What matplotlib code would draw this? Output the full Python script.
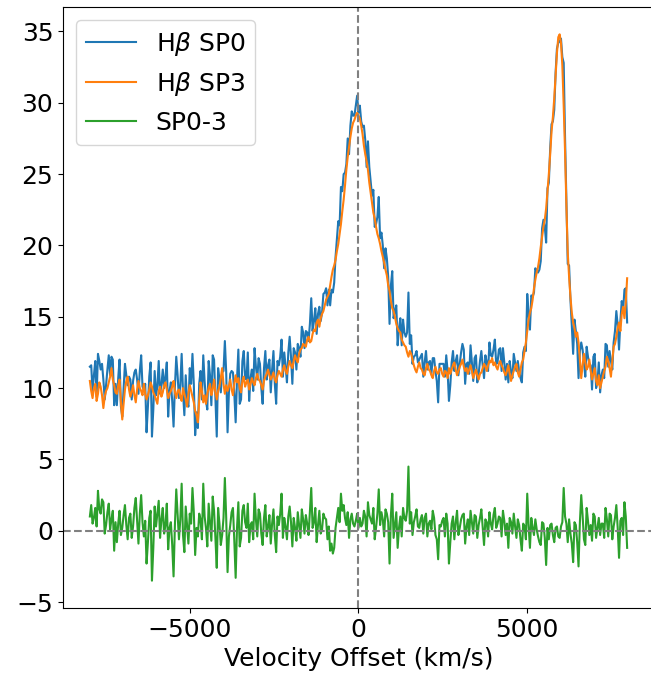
import numpy as np
import matplotlib.pyplot as plt

# velocity grid (km/s), 40 km/s steps
velocity = np.arange(-7960, 7961, 40)

# H-beta SP3 (orange), 20 values per 800 km/s
hb_sp3 = [
    10.5, 9.8, 9.3, 10.0, 10.3, 9.1, 9.6, 10.4, 10.1, 9.5, 8.6, 9.4, 9.8, 10.0, 10.4, 10.8, 11.4, 10.6, 10.2, 9.7,
    9.6, 10.2, 10.6, 9.0, 7.8, 8.9, 9.9, 10.5, 10.8, 9.9, 9.4, 9.7, 10.2, 9.5, 9.0, 9.9, 10.5, 10.0, 9.8, 9.5,
    10.3, 9.6, 9.2, 9.5, 9.9, 10.4, 10.1, 9.7, 9.5, 9.2, 8.9, 9.8, 10.1, 9.4, 9.7, 10.2, 10.4, 9.9, 9.3, 9.6,
    9.8, 10.1, 10.5, 9.7, 9.3, 9.8, 9.9, 9.4, 9.1, 10.0, 9.6, 9.2, 8.7, 9.6, 10.2, 9.8, 9.4, 9.0, 8.4, 8.1,
    7.6, 9.1, 10.4, 9.8, 9.0, 9.5, 8.9, 9.6, 10.0, 10.3, 9.5, 9.9, 10.6, 9.7, 9.2, 9.8, 10.1, 10.7, 11.4, 10.3,
    9.6, 10.2, 9.8, 10.1, 10.6, 9.9, 9.5, 10.3, 10.9, 10.4, 10.7, 10.0, 9.7, 10.5, 10.8, 10.1, 10.4, 10.6, 9.9, 10.3,
    10.7, 10.4, 10.2, 10.7, 11.0, 10.6, 10.5, 10.2, 9.9, 10.5, 10.8, 11.0, 11.3, 10.9, 10.6, 10.8, 11.1, 10.6, 10.4, 10.9,
    11.2, 11.0, 10.8, 11.3, 11.6, 11.2, 11.0, 11.5, 11.9, 11.6, 11.4, 11.9, 12.3, 12.0, 11.8, 12.4, 12.7, 12.8, 13.1, 13.0,
    12.9, 13.4, 13.6, 13.2, 13.3, 13.8, 14.1, 14.0, 14.6, 14.8, 14.3, 14.9, 15.2, 15.4, 15.8, 16.2, 16.4, 16.6, 17.2, 17.8,
    18.3, 18.6, 19.0, 19.6, 20.1, 20.8, 21.5, 22.4, 23.2, 24.2, 25.3, 26.2, 26.9, 27.6, 28.2, 28.6, 28.8, 29.1, 29.3, 29.1,
    28.9, 28.4, 27.8, 27.0, 26.4, 25.9, 25.3, 24.4, 23.7, 23.0, 22.3, 21.9, 21.3, 20.8, 20.5, 20.1, 19.6, 19.2, 18.8, 18.3,
    17.9, 17.2, 16.8, 16.1, 15.6, 15.4, 15.0, 14.5, 14.2, 14.0, 13.9, 13.4, 13.2, 13.0, 12.9, 12.5, 12.2, 12.6, 12.4, 12.0,
    11.6, 11.3, 11.1, 11.5, 11.8, 11.4, 11.3, 11.0, 10.9, 11.4, 11.7, 11.3, 11.2, 10.9, 10.7, 11.2, 11.5, 11.1, 11.0, 11.3,
    11.4, 11.0, 10.8, 11.2, 11.1, 10.7, 11.4, 11.0, 11.3, 11.6, 11.8, 11.3, 10.9, 11.2, 11.5, 11.7, 12.0, 11.5, 11.2, 11.4,
    11.0, 11.3, 11.6, 11.2, 10.7, 11.0, 11.3, 10.9, 10.6, 11.0, 11.1, 11.4, 11.7, 11.5, 11.2, 11.6, 11.9, 11.8, 12.1, 11.6,
    11.8, 11.5, 11.3, 11.7, 11.9, 11.6, 11.4, 11.1, 10.9, 11.2, 11.6, 11.0, 10.5, 10.9, 11.2, 11.5, 11.7, 11.1, 10.8, 11.3,
    11.8, 12.0, 12.6, 13.2, 14.0, 14.8, 15.3, 15.6, 16.2, 17.0, 17.6, 18.1, 18.5, 19.1, 19.9, 20.6, 21.3, 21.8, 22.6, 23.8,
    25.0, 26.4, 28.0, 29.0, 30.3, 31.9, 33.5, 34.6, 34.8, 34.2, 32.6, 29.8, 26.6, 22.8, 19.5, 17.8, 16.4, 15.3, 14.6, 14.2,
    13.6, 13.9, 13.2, 12.0, 10.7, 11.6, 12.4, 11.8, 11.3, 11.5, 12.0, 11.2, 10.6, 11.0, 11.4, 10.5, 10.2, 10.9, 10.0, 10.4,
    10.8, 11.2, 11.5, 12.2, 11.9, 11.4, 10.8, 11.9, 12.9, 13.1, 13.6, 14.2, 14.6, 14.0, 15.2, 15.7, 14.9, 16.0, 17.7,
]

# H-beta SP0 (blue)
hb_sp0 = [
    11.5, 11.6, 9.8, 10.9, 11.9, 9.4, 12.4, 11.9, 11.3, 11.7, 10.6, 9.2, 10.2, 11.3, 12.3, 10.9, 12.2, 12.0, 8.8, 10.3,
    8.8, 10.7, 12.0, 8.7, 8.0, 10.0, 11.7, 10.9, 10.2, 10.8, 10.6, 9.2, 10.5, 11.1, 11.3, 10.6, 9.6, 11.2, 12.3, 10.1,
    9.9, 10.3, 6.9, 8.7, 10.8, 11.8, 6.6, 8.5, 11.2, 9.5, 10.1, 11.9, 9.6, 10.2, 11.3, 10.0, 10.8, 11.8, 8.0, 9.8,
    10.4, 9.1, 7.3, 10.1, 12.2, 10.9, 9.3, 10.2, 12.4, 9.7, 8.1, 10.9, 9.1, 8.7, 11.4, 10.3, 12.4, 10.3, 6.7, 8.3,
    7.2, 10.3, 11.2, 9.2, 12.3, 10.5, 9.1, 8.5, 11.9, 10.9, 8.8, 12.3, 12.0, 9.2, 6.6, 11.4, 10.6, 9.7, 11.1, 11.2,
    13.3, 11.1, 6.9, 9.7, 11.0, 11.2, 11.1, 9.6, 7.6, 10.6, 12.7, 8.9, 9.2, 11.9, 12.6, 10.7, 10.6, 12.5, 9.1, 10.7,
    11.3, 9.8, 12.8, 11.5, 10.6, 12.1, 11.7, 10.0, 8.9, 11.4, 12.6, 10.6, 11.6, 12.0, 9.7, 11.3, 12.6, 10.3, 8.9, 11.9,
    11.6, 12.2, 13.4, 10.8, 12.5, 11.5, 10.4, 12.5, 13.6, 12.2, 10.3, 12.8, 12.5, 11.3, 13.1, 12.8, 12.2, 14.3, 13.9, 12.8,
    14.0, 13.9, 13.3, 14.5, 16.3, 14.0, 14.7, 15.6, 13.8, 15.2, 15.7, 14.7, 15.3, 16.6, 16.7, 17.0, 15.8, 16.9, 15.8, 16.9,
    16.7, 17.4, 19.2, 20.5, 21.7, 21.4, 24.1, 23.8, 25.0, 25.1, 25.7, 27.5, 26.4, 28.4, 29.4, 29.1, 29.1, 29.8, 30.5, 29.3,
    29.8, 28.7, 28.3, 28.4, 27.4, 25.5, 27.3, 25.5, 24.5, 23.5, 23.9, 21.3, 21.5, 22.0, 23.4, 20.5, 20.9, 20.0, 18.4, 19.8,
    19.1, 17.8, 14.5, 17.2, 18.2, 14.9, 15.4, 15.8, 13.0, 14.2, 14.9, 13.0, 14.8, 13.9, 13.6, 13.9, 16.7, 13.1, 13.7, 11.7,
    12.2, 12.3, 12.6, 11.8, 12.0, 12.2, 12.4, 10.8, 11.8, 12.6, 11.3, 11.8, 11.9, 11.0, 12.1, 12.1, 11.2, 10.5, 9.0, 11.7,
    11.7, 11.7, 11.7, 10.8, 12.3, 11.2, 9.1, 10.2, 11.8, 12.6, 11.2, 11.9, 12.3, 10.9, 11.7, 12.5, 13.1, 12.7, 10.3, 11.7,
    11.8, 11.0, 13.0, 11.8, 10.5, 12.1, 12.3, 10.4, 11.0, 11.9, 12.6, 11.6, 10.7, 12.3, 11.8, 11.2, 13.2, 12.3, 12.2, 12.7,
    13.4, 11.7, 11.8, 12.7, 12.8, 11.2, 12.8, 11.8, 10.6, 11.7, 10.4, 11.9, 11.1, 10.7, 12.4, 11.8, 11.2, 11.9, 11.2, 10.7,
    10.4, 12.5, 12.9, 12.6, 16.6, 15.2, 14.1, 16.5, 16.4, 16.7, 18.4, 18.2, 18.1, 18.3, 18.9, 21.2, 21.8, 21.3, 20.2, 24.0,
    24.4, 26.8, 28.5, 28.7, 29.5, 32.1, 33.8, 34.2, 34.3, 34.5, 33.2, 32.8, 27.6, 23.3, 18.7, 18.6, 16.2, 14.4, 12.4, 14.8,
    14.0, 13.1, 10.7, 12.6, 13.2, 12.7, 11.8, 10.8, 12.9, 12.2, 11.7, 11.6, 9.9, 12.2, 12.4, 10.0, 10.4, 11.8, 9.7, 10.9,
    11.3, 10.7, 13.1, 13.0, 11.5, 12.6, 11.9, 11.3, 13.2, 14.0, 15.4, 14.4, 12.7, 14.7, 16.1, 15.4, 16.9, 17.0, 14.6,
]

# difference SP0 - SP3 (green)
diff_sp03 = [
    1.0, 1.8, 0.5, 0.9, 1.6, 0.3, 2.8, 1.5, 1.2, 2.2, 2.0, -0.2, 0.4, 1.3, 1.9, 0.1, 0.8, 1.4, -1.4, 0.6,
    -0.8, 0.5, 1.4, -0.3, 0.2, 1.1, 1.8, 0.4, -0.6, 0.9, 1.2, -0.5, 0.3, 1.6, 2.3, 0.7, -0.9, 1.2, 2.5, 0.6,
    -0.4, 0.7, -2.3, -0.8, 0.9, 1.4, -3.5, -1.2, 1.7, 0.3, 1.2, 2.1, -0.5, 0.8, 1.6, -0.2, 0.4, 1.9, -1.3, 0.2,
    0.6, -1.0, -3.2, 0.4, 2.9, 1.1, -0.6, 0.8, 3.3, -0.3, -1.5, 1.7, 0.4, -0.9, 1.2, 0.5, 3.0, 1.3, -1.7, 0.2,
    -0.4, 1.2, 0.8, -0.6, 3.3, 1.0, 0.2, -1.1, 1.9, 0.6, -0.7, 2.4, 1.4, -0.5, -2.6, 1.6, 0.5, -1.0, -0.3, 0.9,
    3.7, 0.9, -2.9, -0.4, 0.4, 1.3, 1.6, -0.7, -3.3, 0.2, 2.0, -1.1, -0.5, 1.4, 1.8, 0.6, 0.2, 1.9, -0.8, 0.4,
    0.6, -0.6, 2.6, 0.8, -0.4, 1.5, 1.2, -0.2, -1.0, 0.9, 1.8, -0.4, 0.3, 1.1, -0.9, 0.5, 1.5, -0.3, -1.5, 1.0,
    0.4, 1.2, 2.6, -0.5, 0.9, 0.3, -0.6, 1.0, 1.7, 0.6, -1.1, 0.9, 0.2, -0.7, 1.3, 0.4, -0.5, 1.5, 0.8, -0.2,
    1.1, 0.5, -0.3, 1.3, 3.0, 0.2, 0.6, 1.6, -0.8, 0.4, 1.4, -0.2, 0.1, 1.2, 0.9, 0.8, -0.6, 0.3, -1.4, -0.9,
    -1.6, -1.2, 0.2, 0.9, 1.6, 0.6, 2.6, 1.4, 1.8, 0.9, 0.4, 1.3, -0.5, 0.8, 1.2, 0.5, 0.3, 0.7, 1.2, 0.2,
    0.9, 0.3, 0.5, 1.4, 1.0, -0.4, 2.0, 1.1, 0.8, 0.5, 1.6, -0.6, 0.2, 1.2, 2.9, 0.4, 1.3, 0.8, -0.4, 1.5,
    1.2, 0.6, -2.3, 1.1, 2.6, -0.5, 0.4, 1.3, -1.2, 0.2, 1.0, -0.4, 1.6, 0.9, 0.7, 1.4, 4.5, 0.5, 1.3, -0.3,
    0.6, 1.0, 1.5, 0.3, 0.2, 0.8, 1.1, -0.2, 0.9, 1.2, -0.4, 0.5, 0.7, 0.1, 1.4, 0.9, -0.3, -0.6, -2.0, 0.4,
    0.3, 0.7, 0.9, -0.4, 1.2, 0.5, -2.3, -0.8, 0.5, 1.0, -0.6, 0.6, 1.4, -0.3, 0.2, 0.8, 1.1, 1.2, -0.9, 0.3,
    0.8, -0.3, 1.4, 0.6, -0.2, 1.1, 1.0, -0.5, 0.4, 0.9, 1.5, 0.2, -1.0, 0.8, 0.6, -0.4, 1.3, 0.5, 0.1, 1.1,
    1.6, 0.2, 0.5, 1.0, 0.9, -0.4, 1.4, 0.7, -0.3, 0.5, -1.2, 0.9, 0.6, -0.2, 1.2, 0.3, -0.5, 0.8, 0.4, -0.6,
    -1.4, 0.5, 0.3, -0.6, 2.6, 0.4, -1.2, 0.9, 0.2, -0.3, 0.8, 0.1, -0.4, -0.8, -1.0, 0.6, 0.5, -0.5, -2.4, 0.2,
    -0.6, 0.4, 0.5, -0.3, -0.8, 0.2, 0.3, -0.4, -0.5, 0.3, 0.6, 3.0, 1.0, 0.5, -0.8, 0.8, -0.2, -0.9, -2.2, 0.6,
    0.4, -0.8, -2.5, 0.6, 2.5, 1.1, -0.6, -1.0, 1.6, 0.7, -0.3, 0.4, -0.7, 1.2, 1.0, -0.5, 0.2, 0.9, -0.3, 0.5,
    0.5, -0.5, 1.6, 0.8, -0.4, 1.2, 1.1, -0.6, 0.3, 0.9, 1.8, 0.2, -1.9, 0.7, 0.9, -0.3, 2.0, 1.0, -1.2,
]

xtick_values = [-5000, 0, 5000]

plt.rcParams['font.size'] = 18

fig = plt.figure(figsize=(6.51, 6.76), dpi=100)
ax = fig.add_axes([63/651, 68/676, 591/651, 601/676])

ax.plot(velocity, hb_sp0, label=r'H$\beta$ SP0')
ax.plot(velocity, hb_sp3, label=r'H$\beta$ SP3')
ax.plot(velocity, diff_sp03, label='SP0-3')

ax.axvline(0, color='gray', ls='--')
ax.axhline(0, color='gray', ls='--')

ax.set_xticks(xtick_values)
ax.set_xlabel('Velocity Offset (km/s)')
ax.legend(loc='upper left')

fig.savefig('out.png', dpi=100)
